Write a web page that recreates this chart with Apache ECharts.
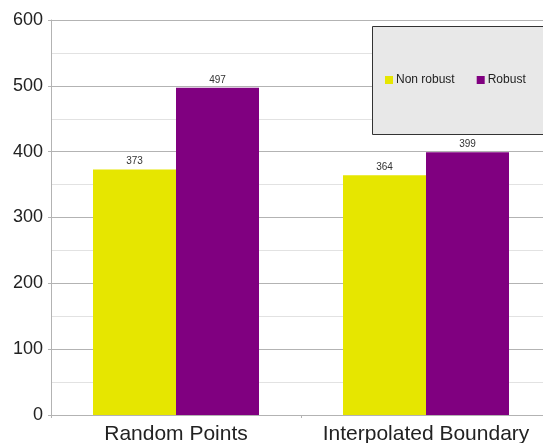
<!DOCTYPE html>
<html><head><meta charset="utf-8">
<script src="https://cdn.jsdelivr.net/npm/echarts@6/dist/echarts.min.js"></script>
<style>html,body{margin:0;padding:0;background:#fff}#c{width:543px;height:443px}</style>
</head><body><div id="c"></div>
<script>
const categories = ["Random Points", "Interpolated Boundary"];
const nonRobust = [373, 364];
const robust = [497, 399];
const seriesNames = ["Non robust", "Robust"];

const chart = echarts.init(document.getElementById('c'), null, {renderer: 'canvas'});
const labelCfg = {show: true, position: 'top', distance: 3, fontSize: 10, color: '#333', fontFamily: 'Liberation Sans'};
chart.setOption({
  animation: false,
  textStyle: {fontFamily: 'Liberation Sans'},
  grid: {left: 51, top: 20, width: 500, height: 395, outerBoundsMode: 'none'},
  graphic: [{
    type: 'rect', z: 5,
    shape: {x: 372.5, y: 26.5, width: 200, height: 108},
    style: {fill: '#e8e8e8', stroke: '#333', lineWidth: 1}
  }],
  legend: {
    data: seriesNames,
    left: 385, top: 74,
    orient: 'horizontal',
    padding: 0,
    z: 10,
    itemWidth: 8, itemHeight: 8, itemGap: 22,
    icon: 'rect',
    textStyle: {fontSize: 12, color: '#222', padding: [0, 0, 0, -2]}
  },
  xAxis: {
    type: 'category',
    data: categories,
    axisLine: {show: true, lineStyle: {color: '#b3b3b3'}},
    axisTick: {show: true, length: 3, lineStyle: {color: '#b3b3b3'}},
    axisLabel: {fontSize: 21, color: '#222', margin: 9, interval: 0, hideOverlap: false}
  },
  yAxis: {
    type: 'value',
    min: 0, max: 600, interval: 100,
    axisLine: {show: true, lineStyle: {color: '#b3b3b3'}},
    axisTick: {show: true, length: 3, lineStyle: {color: '#b3b3b3'}},
    axisLabel: {fontSize: 18, color: '#222', margin: 8},
    splitLine: {show: true, lineStyle: {color: '#b3b3b3'}},
    minorTick: {show: false, splitNumber: 2},
    minorSplitLine: {show: true, lineStyle: {color: '#e2e2e2'}}
  },
  series: [
    {name: seriesNames[0], type: 'bar', data: nonRobust, barWidth: 83, barGap: '0%', itemStyle: {color: '#e6e600'}, label: labelCfg},
    {name: seriesNames[1], type: 'bar', data: robust, barWidth: 83, barGap: '0%', itemStyle: {color: '#800080'}, label: labelCfg}
  ]
});
</script></body></html>
